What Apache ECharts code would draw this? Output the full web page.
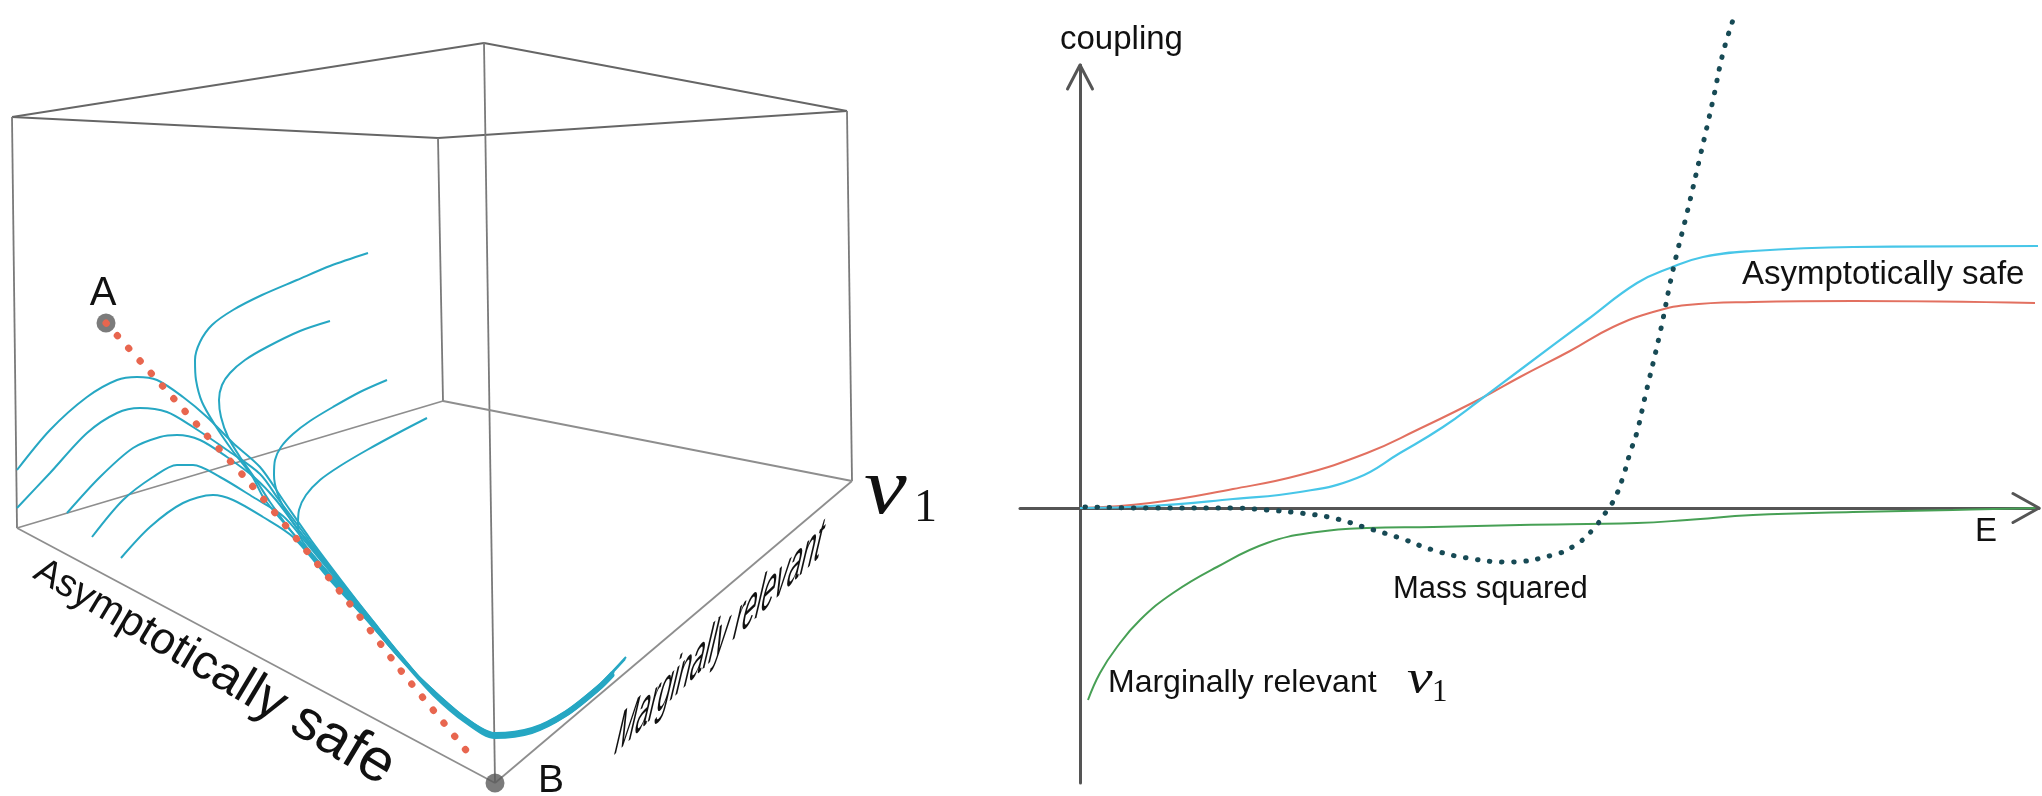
<!DOCTYPE html>
<html>
<head>
<meta charset="utf-8">
<script src="https://cdn.jsdelivr.net/npm/echarts@6/dist/echarts.min.js"></script>
<style>
  html, body { margin: 0; padding: 0; background: #ffffff; }
  #chart { width: 2042px; height: 796px; }
</style>
</head>
<body>
<div id="chart"></div>
<script>
// ---------- Left panel: coupling-space sketch (sketch-plane units, y grows downward) ----------
// corners: 0 top-left, 1 top-front, 2 top-right, 3 top-back, 4 bottom-left, 5 bottom-back, 6 bottom-right, 7 bottom-front (B)
const boxCorners = [[12,117],[484,43],[847,111],[438,138],[17,528],[443,401],[852,481],[495,783]];
const topEdges = [[0,1],[1,2],[0,3],[3,2]];
const sideEdges = [[0,4],[3,5],[1,7],[2,6]];
const floorEdges = [[4,5],[5,6],[4,7],[7,6]];

// RG flow lines, each ends where it joins the common bundle toward B
const flowStrands = [
  [[368,253],[330,266],[297,280],[262,295],[233,310],[212,325],[200,342],[195,360],[196,380],[202,402],[215,425],[232,450],[252,476],[265,500],[299,540],[334,580],[368,620],[399,657]],
  [[330,321],[300,331],[267,347],[245,360],[230,373],[222,385],[219,400],[221,417],[228,437],[240,457],[256,480],[270,502],[298,540],[332,580],[367,620],[399,657]],
  [[387,380],[360,392],[333,407],[310,421],[293,434],[281,447],[275,460],[274,475],[277,492],[285,510],[296,527],[307,540],[339,580],[371,620],[401,657]],
  [[427,418],[400,432],[367,450],[340,466],[320,480],[306,495],[299,510],[298,525],[303,542],[335,580],[369,620],[400,657]],
  [[17,470],[50,430],[87,397],[117,380],[137,377],[157,380],[183,397],[207,417],[233,443],[260,467],[283,500],[311,540],[341,580],[372,620],[402,657]],
  [[17,508],[50,473],[87,433],[117,413],[140,408],[167,412],[193,427],[227,450],[260,474],[279,500],[309,540],[340,580],[372,620],[402,657]],
  [[67,513],[100,477],[133,448],[160,437],[177,435],[200,440],[227,457],[255,478],[276,500],[306,540],[338,580],[371,620],[401,657]],
  [[92,537],[123,500],[153,477],[177,465],[193,465],[220,477],[253,497],[283,516],[304,540],[337,580],[370,620],[401,657]],
  [[121,558],[150,527],[183,503],[213,495],[233,500],[263,517],[293,537],[330,580],[367,620],[399,657]]
];
// shared path of the bundle near B, and each strand's small offset / length within it
const bundleTrack = [[433,692],[466,720],[495,735],[532,730],[566,713],[599,687],[613,673],[626,659]];
const strandShift = [[0,-2],[1,-1],[-1,0],[0,1],[1,2],[-1,-1],[0,0],[1,1],[0,3]];
const strandTailLength = [8,7,8,7,7,7,7,7,7];

// separatrix from fixed point A toward fixed point B
const separatrix = [[106,323],[150,372],[200,428],[248,481],[300,543],[350,604],[402,672],[443,722],[474,760]];
const fixedPoints = [{ name: 'A', value: [106,323] }, { name: 'B', value: [495,783] }];

// ---------- Right panel: running couplings vs energy ----------
const asymptoticallySafeUpper = [[0,0],[0.7,0.02],[1.53,0.09],[2.2,0.16],[2.77,0.3],[3.2,0.55],[3.63,0.81],[4.0,1.08],[4.4,1.38],[5.07,1.88],[5.57,2.25],[5.9,2.4],[6.23,2.51],[6.73,2.57],[7.73,2.61],[9.58,2.62]];
const asymptoticallySafeLower = [[0,0],[0.7,0.05],[1.53,0.19],[2.2,0.33],[2.87,0.55],[3.37,0.78],[4.0,1.09],[4.4,1.31],[4.9,1.57],[5.33,1.81],[5.73,1.96],[6.07,2.03],[6.73,2.06],[7.73,2.07],[9.55,2.05]];
const marginallyRelevant = [[0.08,-1.92],[0.2,-1.65],[0.37,-1.39],[0.6,-1.12],[0.93,-0.85],[1.37,-0.59],[1.87,-0.35],[2.37,-0.24],[2.87,-0.2],[3.53,-0.19],[4.4,-0.17],[5.57,-0.15],[6.07,-0.12],[6.73,-0.07],[7.73,-0.04],[8.73,-0.02],[9.58,0]];
const massSquared = [[0.05,0.01],[0.7,0],[1.53,0],[1.87,-0.02],[2.2,-0.05],[2.53,-0.1],[2.87,-0.2],[3.2,-0.3],[3.53,-0.42],[3.87,-0.5],[4.27,-0.54],[4.73,-0.47],[4.97,-0.36],[5.15,-0.19],[5.28,-0.01],[5.35,0.1],[5.43,0.31],[5.5,0.55],[5.57,0.76],[5.65,1.11],[5.8,1.75],[5.93,2.38],[6.07,2.95],[6.2,3.51],[6.33,4.08],[6.43,4.55],[6.54,4.91]];
const energyRange = [-0.6, 9.59];
const couplingRange = [-2.75, 4.43];

// ---------- build ----------
const SANS = '"Liberation Sans", Arial, Helvetica, sans-serif';
const SERIF = '"Liberation Serif", "Times New Roman", serif';
const series = [];

function edgeSeries(edges, color) {
  edges.forEach(function (e) {
    series.push({
      type: 'line', xAxisIndex: 0, yAxisIndex: 0, silent: true, symbol: 'none', z: 1,
      data: [boxCorners[e[0]], boxCorners[e[1]]],
      lineStyle: { color: color, width: 1.8 }
    });
  });
}
edgeSeries(topEdges, '#666666');
edgeSeries(sideEdges, '#7a7a7a');
edgeSeries(floorEdges, '#8e8e8e');

flowStrands.forEach(function (head, i) {
  const s = strandShift[i];
  const tail = bundleTrack.slice(0, strandTailLength[i]).map(function (p) { return [p[0] + s[0], p[1] + s[1]]; });
  series.push({
    type: 'line', xAxisIndex: 0, yAxisIndex: 0, silent: true, symbol: 'none', z: 3,
    smooth: 0.3, data: head.concat(tail),
    lineStyle: { color: '#26a7c3', width: 2 }
  });
});

series.push({
  type: 'scatter', xAxisIndex: 0, yAxisIndex: 0, silent: true, z: 2,
  symbolSize: 19, itemStyle: { color: '#5a5a5a' }, data: fixedPoints
});

series.push({
  type: 'line', xAxisIndex: 0, yAxisIndex: 0, silent: true, symbol: 'none', z: 4,
  smooth: 0.3, data: separatrix,
  lineStyle: { color: '#e8664f', width: 7, type: [0.5, 16.4], cap: 'round' }
});

function flowLine(data, color, width, extra) {
  const s = {
    type: 'line', xAxisIndex: 1, yAxisIndex: 1, silent: true, symbol: 'none', z: 3,
    smooth: 0.45, clip: false, data: data,
    lineStyle: { color: color, width: width }
  };
  if (extra) Object.assign(s.lineStyle, extra);
  series.push(s);
}
flowLine(asymptoticallySafeLower, '#e27060', 2);
flowLine(asymptoticallySafeUpper, '#47c6e8', 2.2);
flowLine(marginallyRelevant, '#47a055', 2);
flowLine(massSquared, '#174a55', 5, { type: [0.5, 11.6], cap: 'round' });

// open arrow heads at the ends of both axes
const arrowStyle = { color: '#555555', width: 3, cap: 'round', join: 'round' };
series.push({
  type: 'line', xAxisIndex: 1, yAxisIndex: 1, silent: true, symbol: 'none', clip: false, z: 5,
  data: [[energyRange[1] - 0.26, 0.145], [energyRange[1], 0], [energyRange[1] - 0.26, -0.145]],
  lineStyle: arrowStyle
});
series.push({
  type: 'line', xAxisIndex: 1, yAxisIndex: 1, silent: true, symbol: 'none', clip: false, z: 5,
  data: [[-0.125, couplingRange[1] - 0.24], [0, couplingRange[1]], [0.125, couplingRange[1] - 0.24]],
  lineStyle: arrowStyle
});

// text placed by its alphabetic baseline
function baselineText(text, x, baseline, size, opts) {
  opts = opts || {};
  const mid = opts.serif ? 0.30 : 0.31;
  const el = {
    type: 'text', silent: true, z: 10,
    x: x, y: baseline - mid * size,
    style: {
      text: text, fill: opts.fill || '#111111',
      fontSize: size, fontFamily: opts.serif ? SERIF : SANS,
      fontStyle: opts.italic ? 'italic' : 'normal',
      align: opts.align || 'left', verticalAlign: 'middle'
    }
  };
  if (opts.scaleX) el.scaleX = opts.scaleX;
  return el;
}

// label that grows along a slanted baseline, one glyph at a time
const measureCtx = document.createElement('canvas').getContext('2d');
function growingText(text, start, angleDeg, size0, size1) {
  const a = angleDeg * Math.PI / 180;
  const ux = Math.cos(a), uy = Math.sin(a);
  const out = [];
  let adv = 0;
  for (let i = 0; i < text.length; i++) {
    const fs = size0 + (size1 - size0) * i / (text.length - 1);
    measureCtx.font = fs + 'px ' + SANS;
    const w = measureCtx.measureText(text[i]).width;
    const bx = start[0] + adv * ux, by = start[1] + adv * uy;
    const up = 0.31 * fs;
    out.push({
      type: 'text', silent: true, z: 10,
      x: bx + up * Math.sin(a), y: by - up * Math.cos(a), rotation: -a,
      style: { text: text[i], fill: '#111111', fontSize: fs, fontFamily: SANS, align: 'left', verticalAlign: 'middle' }
    });
    adv += w;
  }
  return out;
}

const graphics = [].concat(
  growingText('Asymptotically safe', [31, 578], 31, 37, 60),
  [
    {
      type: 'text', silent: true, z: 10,
      x: 616, y: 739, scaleX: 0.41, skewY: 44 * Math.PI / 180, skewX: -0.17,
      style: { text: 'Marginally relevant', fill: '#111111', fontSize: 60, fontStyle: 'italic', fontFamily: SANS, align: 'left', verticalAlign: 'middle' }
    },
    baselineText('A', 103, 306, 40, { align: 'center' }),
    baselineText('B', 538, 793, 39),
    baselineText('v', 864, 516, 80, { serif: true, italic: true, scaleX: 1.2 }),
    baselineText('1', 914, 523, 46, { serif: true }),
    baselineText('coupling', 1060, 50, 33),
    baselineText('E', 1975, 542, 33),
    baselineText('Asymptotically safe', 1742, 285, 33),
    baselineText('Mass squared', 1393, 599, 31),
    baselineText('Marginally relevant', 1108, 693, 32),
    baselineText('v', 1407, 695, 48, { serif: true, italic: true, scaleX: 1.2 }),
    baselineText('1', 1432, 702, 31, { serif: true })
  ]
);

const hiddenAxis = { show: false };
const option = {
  animation: false,
  backgroundColor: '#ffffff',
  grid: [
    { left: 0, top: 0, width: 1000, height: 796 },
    { left: 1020, top: 65, width: 1019, height: 718 }
  ],
  xAxis: [
    Object.assign({ gridIndex: 0, type: 'value', min: 0, max: 1000 }, hiddenAxis),
    {
      gridIndex: 1, type: 'value', min: energyRange[0], max: energyRange[1],
      axisLine: { onZero: true, lineStyle: { color: '#555555', width: 3 } },
      axisTick: { show: false }, axisLabel: { show: false }, splitLine: { show: false }
    }
  ],
  yAxis: [
    Object.assign({ gridIndex: 0, type: 'value', min: 0, max: 796, inverse: true }, hiddenAxis),
    {
      gridIndex: 1, type: 'value', min: couplingRange[0], max: couplingRange[1],
      axisLine: { onZero: true, lineStyle: { color: '#555555', width: 3 } },
      axisTick: { show: false }, axisLabel: { show: false }, splitLine: { show: false }
    }
  ],
  series: series,
  graphic: { elements: graphics }
};

const chart = echarts.init(document.getElementById('chart'), null, { renderer: 'canvas' });
chart.setOption(option);
</script>
</body>
</html>
